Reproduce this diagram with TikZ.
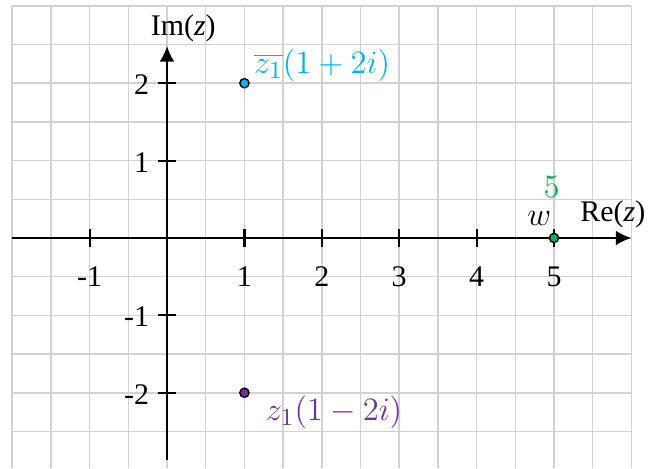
\documentclass[tikz,border=0pt]{standalone}
\usepackage{fontspec}
\setmainfont{Liberation Serif}
\usetikzlibrary{positioning,arrows.meta}
\definecolor{gridgray}{RGB}{210,210,210}
\definecolor{conjblue}{RGB}{0,176,240}
\definecolor{zpurple}{RGB}{112,48,160}
\definecolor{wgreen}{RGB}{0,176,80}
\tikzset{
  axisline/.style={line width=0.8pt},
  dotnode/.style={circle, draw=black, line width=0.5pt, inner sep=0pt, minimum size=0.12cm},
  axislbl/.style={font=\fontsize{11}{13}\selectfont, inner sep=1pt},
  ptlbl/.style={font=\fontsize{12.5}{15}\selectfont, inner sep=0pt}
}

\begin{document}
\begin{tikzpicture}
\useasboundingbox (-2.158,-2.972) rectangle (6.279,3.075);
% grid
\draw[gridgray, line width=0.55pt, step=0.5] (-2,-2.972) grid (6,3);

% axes
\coordinate (xl) at (-2,0);
\coordinate (xr) at (6,0);
\coordinate (yb) at (0,-2.87);
\coordinate (yt) at (0,2.48);
\draw[axisline, -{Latex[length=0.2cm,width=0.19cm]}] (xl) -- (xr);
\draw[axisline, -{Latex[length=0.2cm,width=0.19cm]}] (yb) -- (yt);
\node[axislbl] (relbl) at (5.76,0.30) {Re(\textit{z})};
\node[axislbl] (imlbl) at (0.21,2.71) {Im(\textit{z})};

% ticks
\foreach \x [count=\i] in {-1,1,2,3,4,5} {
  \draw[axisline] (\x,0.11) -- (\x,-0.11);
  \node[axislbl] (xt\i) at (\x,-0.5) {\x};
}
\foreach \y [count=\i] in {-2,-1,1,2} {
  \draw[axisline] (-0.12,\y) -- (0.12,\y);
  \node[axislbl, anchor=east] (yt\i) at (-0.19,\y-0.02) {\y};
}

% points
\node[dotnode, fill=conjblue] (zb) at (1,2) {};
\node[dotnode, fill=zpurple] (z) at (1,-2) {};
\node[dotnode, fill=wgreen] (w) at (5,0) {};
\node[ptlbl, text=conjblue, right=0.05cm of zb, yshift=0.23cm] (zblbl) {$\overline{z_1}(1+2i)$};
\node[ptlbl, text=zpurple, right=0.2cm of z, yshift=-0.25cm] (zlbl) {$z_1(1-2i)$};
\node[ptlbl, above=0.08cm of w, xshift=-0.19cm] (wlbl) {$w$};
\node[ptlbl, text=wgreen, above=0.45cm of w, xshift=-0.03cm] (wval) {$5$};
\end{tikzpicture}
\end{document}
